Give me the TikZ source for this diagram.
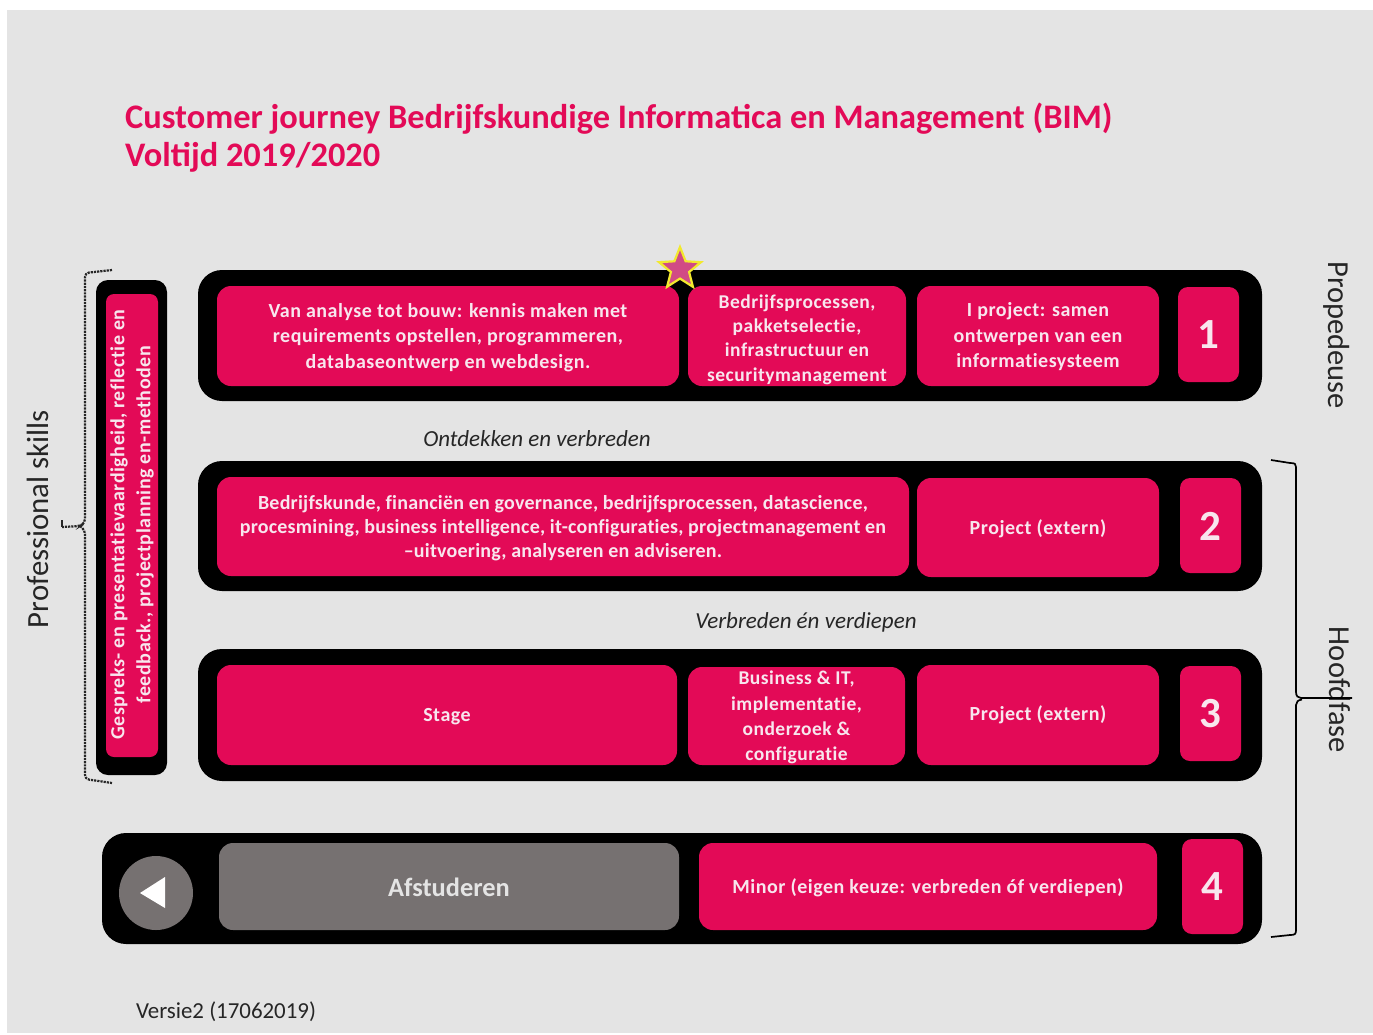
\documentclass[tikz,border=0pt]{standalone}
\usepackage{fontspec}
\setmainfont{Carlito}
\definecolor{bgc}{HTML}{E4E4E4}
\definecolor{pinkc}{HTML}{E30A57}
\definecolor{greyc}{HTML}{767171}
\definecolor{starc}{HTML}{D14B85}
\definecolor{startl}{HTML}{F2E92E}
\definecolor{txtc}{HTML}{262626}
\definecolor{softw}{HTML}{F8E6EE}
\usetikzlibrary{shapes.geometric}
\newcommand{\trk}[3]{\fontsize{#1}{#2}\selectfont\bfseries\addfontfeature{LetterSpace=#3,Ligatures=NoCommon}}
\tikzset{
  bar/.style={fill=black,draw=none,rounded corners=24pt,inner sep=0pt},
  red/.style={fill=pinkc,draw=none,rounded corners=14pt,inner sep=0pt},
  numbox/.style={fill=pinkc,draw=none,rounded corners=10pt,inner sep=0pt},
  lbl/.style={text=softw,inner sep=0pt,align=center,font=\trk{20}{25.5}{2.6}},
  numlbl/.style={text=softw,inner sep=0pt,font=\fontsize{43}{43}\selectfont\bfseries},
  note/.style={text=txtc,inner sep=0pt,font=\fontsize{23}{26}\selectfont\itshape},
  side/.style={text=txtc,inner sep=0pt,rotate=-90,font=\fontsize{30.5}{32}\selectfont},
  bracel/.style={black,line width=1.7pt},
  dotl/.style={txtc,line width=2.2pt,densely dotted,rounded corners=4pt},
}
% box style, name, x1,y1,x2,y2, label style, text shift, text
\newcommand{\bx}[9]{\node[#1,minimum width=#5pt-#3pt,minimum height=#6pt-#4pt] (#2) at ({(#3+#5)/2},{(#4+#6)/2}) {};
 \node[#7,yshift=-#8pt] (#2t) at (#2.center) {#9};}
\begin{document}
\begin{tikzpicture}[x=1pt,y=-1pt]
\useasboundingbox (0,0) rectangle (1373,1034);
\fill[white] (0,0) rectangle (1373,1034);
\fill[bgc] (7,10) rectangle (1373,1033);
\node[anchor=north west,inner sep=0pt,text=pinkc,align=left,font=\fontsize{34.4}{38}\selectfont\bfseries] (title) at (125,102.5) {Customer journey Bedrijfskundige Informatica en Management (BIM)\\Voltijd 2019/2020};
% bars
\node[bar,minimum width=1064pt,minimum height=131pt] (b1) at (730,335.5) {};
\node[bar,minimum width=1064pt,minimum height=130pt] (b2) at (730,526) {};
\node[bar,minimum width=1064pt,minimum height=132pt] (b3) at (730,715) {};
\node[bar,minimum width=1160pt,minimum height=111pt] (b4) at (682,888.5) {};
\node[bar,rounded corners=12pt,minimum width=71pt,minimum height=495pt] (bl) at (131.5,527.5) {};
% row 1
\bx{red}{a1}{217}{286}{679}{386}{lbl}{1.5}{Van analyse tot bouw: kennis maken met\\requirements opstellen, programmeren,\\databaseontwerp en webdesign.}
\bx{red}{a2}{688}{286}{906}{386}{lbl,font=\trk{19.5}{24.3}{2.6}}{3.5}{Bedrijfsprocessen,\\pakketselectie,\\infrastructuur en\\securitymanagement}
\bx{red}{a3}{917}{286}{1159}{386}{lbl}{1}{I project: samen\\ontwerpen van een\\informatiesysteem}
\bx{numbox}{n1}{1178}{287}{1239}{382}{numlbl}{0}{1}
% row 2
\bx{red}{c1}{217}{477}{909}{576}{lbl,font=\trk{20}{24.3}{1.1}}{1.5}{Bedrijfskunde, financiën en governance, bedrijfsprocessen, datascience,\\procesmining, business intelligence, it-configuraties, projectmanagement en\\–uitvoering, analyseren en adviseren.}
\bx{red}{c2}{917}{478}{1159}{577}{lbl}{1.5}{Project (extern)}
\bx{numbox}{n2}{1180}{478}{1241}{573}{numlbl}{0.5}{2}
% row 3
\bx{red}{d1}{217}{665}{677}{765}{lbl}{2}{Stage}
\bx{red}{d2}{688}{667}{905}{765}{lbl,font=\trk{19.5}{25.3}{2.6}}{1.5}{Business \& IT,\\implementatie,\\onderzoek \&\\configuratie}
\bx{red}{d3}{917}{665}{1159}{765}{lbl}{0}{Project (extern)}
\bx{numbox}{n3}{1180}{666}{1241}{761}{numlbl}{0.5}{3}
% row 4
\bx{red,fill=greyc}{e1}{219}{843}{679}{930}{lbl,text=bgc,font=\fontsize{26.4}{28}\selectfont\bfseries}{0.5}{Afstuderen}
\bx{red}{e2}{699}{843}{1157}{930}{lbl}{1.5}{Minor (eigen keuze: verbreden óf verdiepen)}
\bx{numbox}{n4}{1182}{839}{1243}{934}{numlbl}{0.5}{4}
\node[circle,fill=greyc,minimum size=74pt,inner sep=0pt] (circ) at (156,893) {};
\fill[white] (140,893) -- (165,877) -- (165,908) -- cycle;
% left bar
\node[red,rounded corners=8pt,minimum width=52pt,minimum height=463pt] (l1) at (132,525.5) {};
\node[rotate=90,lbl,font=\trk{20}{26}{2.6},xshift=1pt] (l1t) at (l1.center) {Gespreks- en presentatievaardigheid, reflectie en\\feedback., projectplanning en-methoden};
% star
\node[star,star points=5,star point ratio=2.3,fill=starc,draw=startl,line width=2.2pt,minimum size=44pt,inner sep=0pt] (st) at (680,269) {};
% notes
\node[note] (o) at (537,438.5) {Ontdekken en verbreden};
\node[note] (v) at (806,622) {Verbreden én verdiepen};
\node[side] (prop) at (1337,335) {Propedeuse};
\node[side] (hoof) at (1340,690) {Hoofdfase};
\node[side,rotate=180,font=\fontsize{30.8}{32}\selectfont] (prof) at (38,519) {Professional skills};
\node[text=txtc,inner sep=0pt,font=\fontsize{22.9}{26}\selectfont] (ver) at (226,1011.5) {Versie2 (17062019)};
% braces
\coordinate (rt) at (1271,460);
\coordinate (rm) at (1352,698);
\coordinate (rb) at (1271,937);
\draw[bracel] (rm) -- (1301,698) .. controls (1298,698) and (1296,696) .. (1296,692) -- (1296,467) .. controls (1296,464) and (1295,463) .. (1290,463) -- (rt);
\draw[bracel] (1302,699.5) .. controls (1298,700) and (1296,702) .. (1296,705) -- (1296,930) .. controls (1296,934) and (1295,935) .. (1290,935) -- (rb);
\coordinate (lt) at (112,270);
\coordinate (lm) at (62,527);
\coordinate (lb) at (112,783);
\draw[dotl] (lt) -- (85,273) -- (85,523) -- (80,526) -- (lm);
\draw[dotl] (80,526) -- (85,530) -- (85,779) -- (lb);
\draw[txtc,line width=1.2pt] (62,520) -- (lm);
\end{tikzpicture}
\end{document}
